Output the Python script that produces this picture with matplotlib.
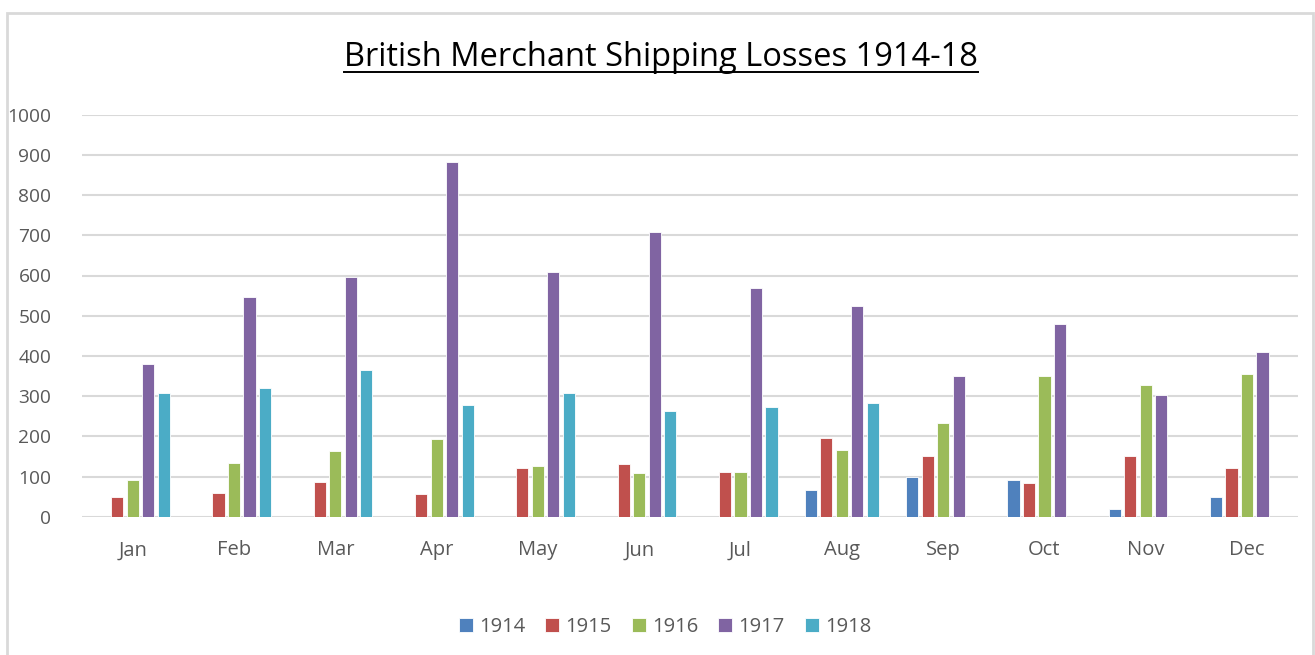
import matplotlib
matplotlib.use("Agg")
import matplotlib.pyplot as plt
import numpy as np
from matplotlib.patches import Rectangle
from matplotlib.lines import Line2D

months = ["Jan", "Feb", "Mar", "Apr", "May", "Jun",
          "Jul", "Aug", "Sep", "Oct", "Nov", "Dec"]
years = ["1914", "1915", "1916", "1917", "1918"]

# losses per month (nan = no data / no bar)
losses_1914 = [np.nan, np.nan, np.nan, np.nan, np.nan, np.nan, np.nan, 66, 98, 91, 18, 48]
losses_1915 = [49, 59, 86, 57, 121, 131, 111, 196, 150, 83, 152, 122]
losses_1916 = [91, 134, 164, 193, 126, 109, 111, 165, 232, 351, 328, 356]
losses_1917 = [380, 546, 597, 883, 609, 708, 568, 523, 350, 479, 303, 409]
losses_1918 = [307, 320, 366, 279, 307, 264, 273, 283, np.nan, np.nan, np.nan, np.nan]

colors = ["#4F81BD", "#C0504D", "#9BBB59", "#8064A2", "#4BACC6"]

plt.rcParams["font.family"] = ["Open Sans", "DejaVu Sans"]

fig = plt.figure(figsize=(13.15, 6.55), dpi=100)
ax = fig.add_axes([82 / 1315, 138.3 / 655, (1297.7 - 82) / 1315, 402 / 655])

x = np.arange(len(months))
slot = 0.153
width = 0.12
series = [losses_1914, losses_1915, losses_1916, losses_1917, losses_1918]
for i, (vals, c, lab) in enumerate(zip(series, colors, years)):
    ax.bar(x + (i - 2) * slot, vals, width, color=c, label=lab,
           edgecolor="white", linewidth=0.6, zorder=3)

ax.set_xlim(-0.5, len(months) - 0.5)
ax.set_ylim(0, 1000)
ax.set_yticks(np.arange(0, 1001, 100))
ax.set_xticks(x)
ax.set_xticklabels(months)
ax.tick_params(axis="both", length=0, colors="#595959")
ax.tick_params(axis="x", pad=17, labelsize=14.5)
ax.tick_params(axis="y", pad=22, labelsize=13.8)
for lbl in ax.get_yticklabels():
    lbl.set_horizontalalignment("right")
ax.grid(axis="y", color="#d9d9d9", linewidth=1.5, zorder=0)
for s in ax.spines.values():
    s.set_visible(False)

# outer chart frame
fig.patches.append(Rectangle((7 / 1315, -0.01), (1313 - 7) / 1315, (655 - 13) / 655 + 0.01,
                             transform=fig.transFigure, fill=False,
                             edgecolor="#d9d9d9", linewidth=2))

title = fig.text(661 / 1315, 1 - 58 / 655, "British Merchant Shipping Losses 1914-18",
                 ha="center", va="center", fontsize=23.5, color="black")

leg = fig.legend(loc="center", bbox_to_anchor=(665 / 1315, 1 - 627 / 655), ncol=5,
                 frameon=False, fontsize=14.5, handlelength=0.7, handleheight=0.7,
                 handletextpad=0.3, columnspacing=1.0)
for t in leg.get_texts():
    t.set_color("#595959")

# underline the title
fig.canvas.draw()
bb = title.get_window_extent().transformed(fig.transFigure.inverted())
fig.lines.append(Line2D([bb.x0, bb.x1], [bb.y0 + 0.004, bb.y0 + 0.004],
                        transform=fig.transFigure, color="black", linewidth=1.4))

fig.savefig("out.png", dpi=100)
